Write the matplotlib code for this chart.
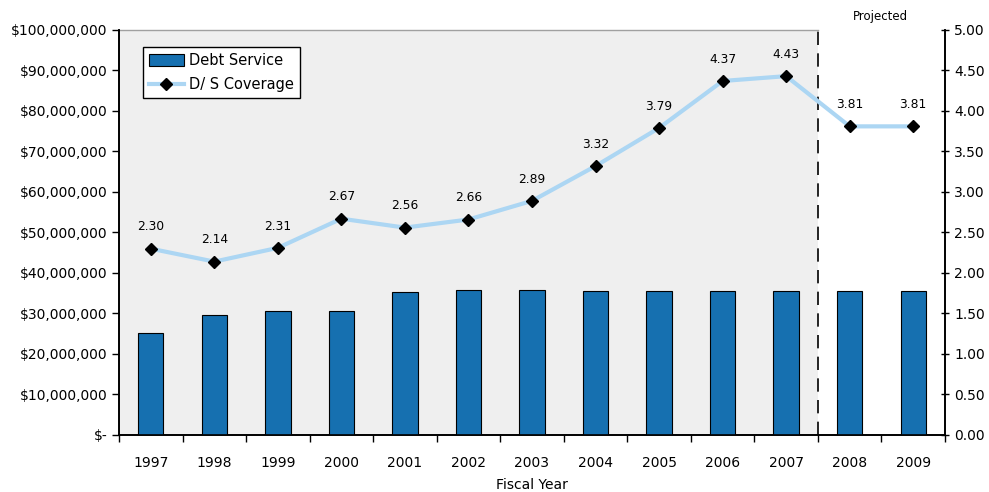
import matplotlib
matplotlib.use("Agg")
import matplotlib.pyplot as plt
from matplotlib.patches import Patch
from matplotlib.lines import Line2D
from matplotlib.ticker import FuncFormatter

years = ["1997", "1998", "1999", "2000", "2001", "2002", "2003",
         "2004", "2005", "2006", "2007", "2008", "2009"]
debt_service = [25.2e6, 29.6e6, 30.5e6, 30.5e6, 35.2e6, 35.8e6, 35.8e6,
                35.5e6, 35.5e6, 35.5e6, 35.5e6, 35.5e6, 35.5e6]
coverage = [2.30, 2.14, 2.31, 2.67, 2.56, 2.66, 2.89, 3.32, 3.79, 4.37, 4.43, 3.81, 3.81]
projected_start = 11  # index of first projected year

plt.rcParams['font.family'] = ['DejaVu Sans']

fig = plt.figure(figsize=(9.89, 4.92), dpi=100)
ax = fig.add_axes([0.1203, 0.1159, 0.8352, 0.8232])
ax2 = ax.twinx()

x = list(range(len(years)))
ax.set_xlim(-0.5, len(years) - 0.5)
ax.set_ylim(0, 100e6)
ax2.set_ylim(0, 5)

# background shading for actuals
ax.axvspan(-0.5, projected_start - 0.5, color='#efefef', zorder=0, lw=0)
ax.plot([-0.5, projected_start - 0.5], [100e6, 100e6], color='#a0a0a0', lw=1, zorder=1, clip_on=False)
ax.axvline(projected_start - 0.5, color='black', lw=1.2, dashes=(8, 5), zorder=2)

ax.bar(x, debt_service, width=0.4, color='#1670b0', edgecolor='black', linewidth=0.8, zorder=3)

ax2.plot(x, coverage, color='#acd6f3', lw=3, zorder=3)
ax2.plot(x, coverage, linestyle='none', marker='D', markersize=6, color='black', zorder=4)
for xi, v in zip(x, coverage):
    ax2.annotate(f"{v:.2f}", (xi, v), xytext=(0, 11), textcoords='offset points',
                 ha='center', va='bottom', fontsize=8.8)

# axes formatting
def money(v, pos):
    if v == 0:
        return "$-"
    return "${:,.0f}".format(v)

ax.yaxis.set_major_formatter(FuncFormatter(money))
ax.set_yticks([i * 10e6 for i in range(11)])
ax2.set_yticks([i * 0.5 for i in range(11)])
ax2.yaxis.set_major_formatter(FuncFormatter(lambda v, p: f"{v:.2f}"))

ax.set_xticks(x)
ax.set_xticklabels(years)
ax.set_xticks([i - 0.5 for i in range(len(years) + 1)], minor=True)
ax.tick_params(axis='x', which='major', length=0, pad=15, labelsize=10)
ax.tick_params(axis='x', which='minor', length=5, direction='out', width=1)
ax.tick_params(axis='y', length=5, direction='out', width=1, labelsize=10)
ax2.tick_params(axis='y', length=6, direction='inout', width=1, labelsize=10)

for a in (ax, ax2):
    a.spines['top'].set_visible(False)
    for s in ('left', 'right', 'bottom'):
        a.spines[s].set_color('black')
        a.spines[s].set_linewidth(1.2)

ax.set_xlabel("Fiscal Year", fontsize=10, labelpad=6)

fig.text(0.8905, 0.967, "Projected", ha='center', va='center', fontsize=8.5)

handles = [Patch(facecolor='#1670b0', edgecolor='black', linewidth=0.8),
           Line2D([0], [0], color='#acd6f3', lw=3, marker='D', markersize=6,
                  markerfacecolor='black', markeredgecolor='black')]
leg = ax2.legend(handles, ["Debt Service", "D/ S Coverage"], loc='upper left',
                 bbox_to_anchor=(0.029, 0.958), borderaxespad=0, fancybox=False,
                 frameon=True, fontsize=10.5, handlelength=2.4, handleheight=0.9,
                 handletextpad=0.35, borderpad=0.4, labelspacing=0.65)
leg.get_frame().set_edgecolor('black')
leg.get_frame().set_linewidth(1)
leg.get_frame().set_alpha(1)

fig.savefig("out.png", dpi=100)
